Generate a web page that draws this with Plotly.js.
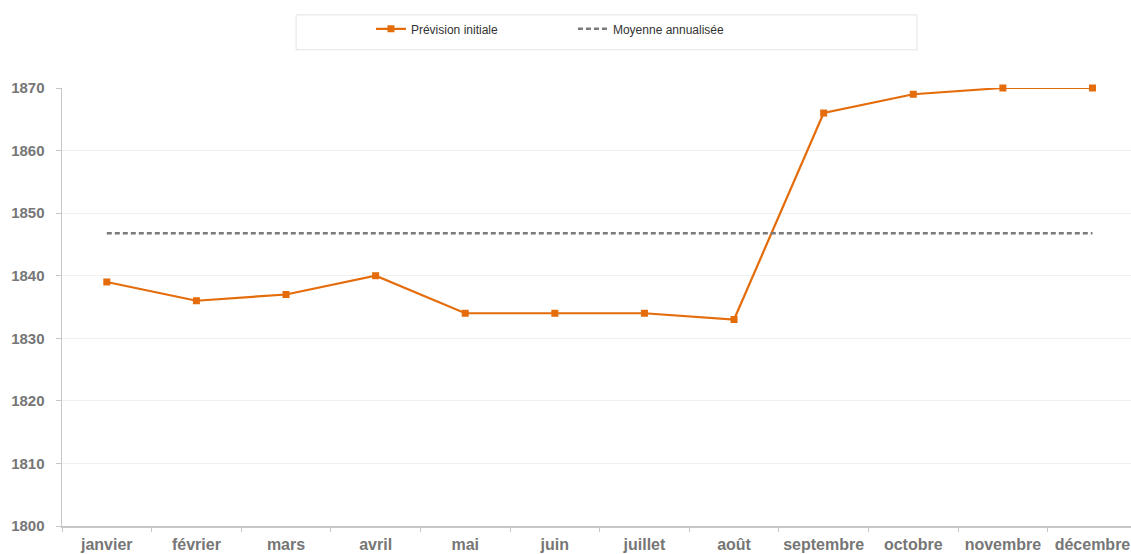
<!DOCTYPE html>
<html>
<head>
<meta charset="utf-8">
<script src="https://cdn.plot.ly/plotly-3.0.1.min.js"></script>
<style>
  html, body { margin: 0; padding: 0; background: #ffffff; }
  #chart { width: 1131px; height: 554px; }
</style>
</head>
<body>
<div id="chart"></div>
<script>
// Monthly values
const months = ['janvier', 'février', 'mars', 'avril', 'mai', 'juin',
                'juillet', 'août', 'septembre', 'octobre', 'novembre', 'décembre'];
const initialForecast = [1839, 1836, 1837, 1840, 1834, 1834, 1834, 1833, 1866, 1869, 1870, 1870];
const annualAverage = [1846.8, 1846.8, 1846.8, 1846.8, 1846.8, 1846.8,
                       1846.8, 1846.8, 1846.8, 1846.8, 1846.8, 1846.8];
const yTicks = [1800, 1810, 1820, 1830, 1840, 1850, 1860, 1870];

const fontFamily = 'Liberation Sans, Arial, sans-serif';

const traces = [
  {
    type: 'scatter',
    mode: 'lines+markers',
    name: 'Prévision initiale',
    x: months,
    y: initialForecast,
    line: { color: '#E46C0A', width: 2.2 },
    marker: { symbol: 'square', size: 7, color: '#E46C0A' },
    cliponaxis: false
  },
  {
    type: 'scatter',
    mode: 'lines',
    name: 'Moyenne annualisée',
    x: months,
    y: annualAverage,
    line: { color: '#7a7a7a', width: 2.5, dash: '5px,3px' }
  }
];

const layout = {
  width: 1131,
  height: 554,
  margin: { l: 62, r: 0, t: 88, b: 28 },
  paper_bgcolor: '#ffffff',
  plot_bgcolor: '#ffffff',
  showlegend: true,
  legend: {
    orientation: 'h',
    x: 0.289,
    xanchor: 'left',
    y: 1.135,
    yanchor: 'middle',
    bgcolor: 'rgba(0,0,0,0)',
    borderwidth: 0,
    font: { family: fontFamily, size: 12, color: '#333333' },
    entrywidth: 157,
    itemwidth: 30,
    traceorder: 'normal'
  },
  shapes: [
    {
      type: 'rect', xref: 'paper', yref: 'paper',
      x0: 0.219, x1: 0.7998, y0: 1.0873, y1: 1.1669,
      line: { color: '#e3e3e3', width: 1 },
      fillcolor: 'rgba(0,0,0,0)',
      layer: 'below'
    }
  ],
  xaxis: {
    type: 'category',
    range: [-0.5, 11.43],
    showgrid: false,
    showline: true,
    linecolor: '#c6c6c6',
    linewidth: 1.5,
    ticks: 'outside',
    tickson: 'boundaries',
    ticklen: 4,
    tickcolor: '#c6c6c6',
    tickangle: 0,
    ticklabelstandoff: 3,
    tickfont: { family: fontFamily, size: 16, color: '#767676', weight: 'bold' },
    zeroline: false,
    fixedrange: true
  },
  yaxis: {
    range: [1800, 1870],
    tickvals: yTicks,
    showgrid: true,
    gridcolor: '#f0f0f0',
    gridwidth: 1,
    showline: true,
    linecolor: '#c6c6c6',
    linewidth: 1.5,
    ticks: 'outside',
    ticklen: 5,
    tickcolor: '#c6c6c6',
    ticklabelstandoff: 8,
    tickfont: { family: fontFamily, size: 15, color: '#767676', weight: 'bold' },
    zeroline: false,
    fixedrange: true
  }
};

Plotly.newPlot('chart', traces, layout, { displayModeBar: false, staticPlot: true });
</script>
</body>
</html>
